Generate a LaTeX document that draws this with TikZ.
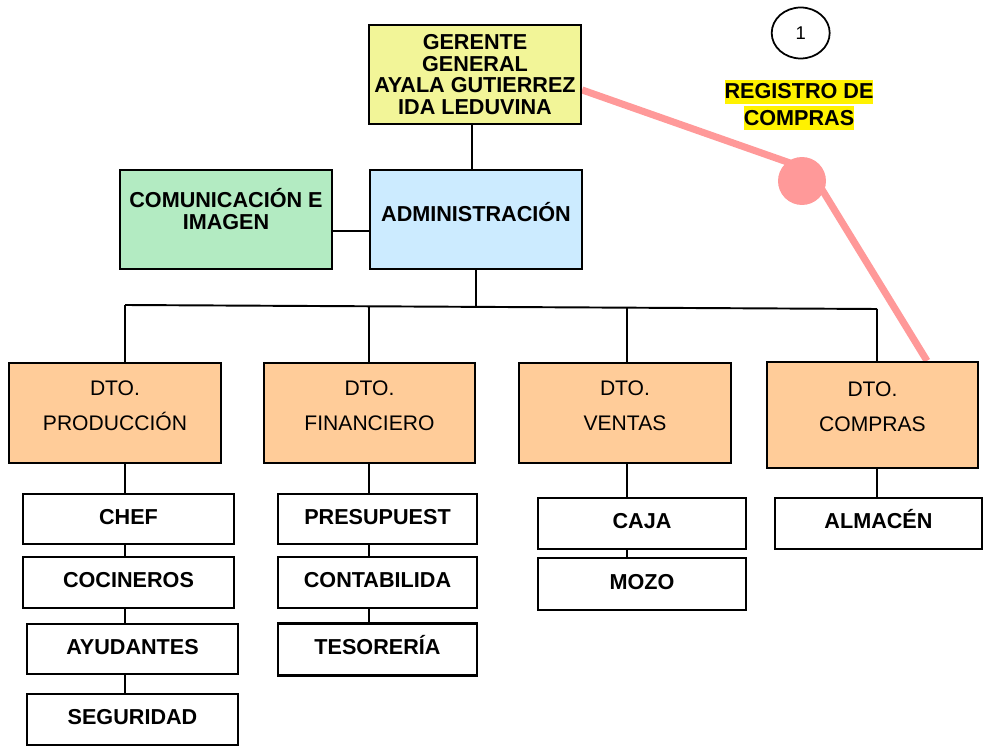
\documentclass[tikz,border=0pt]{standalone}
\usepackage{fontspec}
\setmainfont{Liberation Sans}
\usetikzlibrary{shapes.geometric,backgrounds,calc}
\definecolor{amarillo}{HTML}{F2F598}
\definecolor{verde}{HTML}{B3EBC2}
\definecolor{celeste}{HTML}{CCEBFF}
\definecolor{naranja}{HTML}{FFCC99}
\definecolor{rosa}{HTML}{FF9999}
\newcommand{\resalte}[1]{{\setlength{\fboxsep}{0pt}\colorbox{yellow}{\rule[-2.8pt]{0pt}{13.6pt}#1}}}
\begin{document}
\begin{tikzpicture}[x=0.02cm,y=-0.02cm,
        caja/.style={draw,line width=1.3pt,minimum width=4.24cm,minimum height=2cm,inner sep=0pt},
        depto/.style={caja,fill=naranja},
        puesto/.style={draw,line width=1.3pt,minimum width=4.22cm,minimum height=1cm,inner sep=0pt,text height=8.8pt,text depth=3pt,font=\fontsize{12.3}{14}\selectfont\bfseries},
        texto/.style={align=center,font=\fontsize{12.3}{12.5}\selectfont\bfseries},
        textodto/.style={align=center,yshift=4pt,font=\fontsize{12}{19.8}\selectfont},
        linea/.style={line width=1.1pt}]
        \useasboundingbox (0,0) rectangle (985,746);
        \node[caja,fill=amarillo,minimum height=1.98cm,align=center,font=\fontsize{12.3}{12.2}\selectfont\bfseries] (ger) at (475,74.5) {GERENTE\\GENERAL\\AYALA GUTIERREZ\\IDA LEDUVINA};
        \node[caja,fill=verde,minimum height=1.98cm,label={[texto,yshift=5.7pt]center:{COMUNICACIÓN E\\IMAGEN}}] (com) at (226,219.5) {};
        \node[caja,fill=celeste,minimum height=1.98cm,label={[texto,yshift=4.5pt]center:ADMINISTRACIÓN}] (adm) at (476,219.5) {};
        \node[depto,label={[textodto]center:{DTO.\\PRODUCCIÓN}}] (prod) at (115,413) {};
        \node[depto,minimum width=4.22cm,label={[textodto]center:{DTO.\\FINANCIERO}}] (fin) at (369.5,413) {};
        \node[depto,label={[textodto]center:{DTO.\\VENTAS}}] (vent) at (625,413) {};
        \node[depto,minimum width=4.22cm,minimum height=2.12cm,label={[textodto,yshift=0.5pt]center:{DTO.\\COMPRAS}}] (dcom) at (872.5,415) {};
        \node[puesto] (chef) at (128.5,519) {CHEF};
        \node[puesto,minimum height=1.02cm] (coci) at (128.5,582.5) {COCINEROS};
        \node[puesto] (ayud) at (132.5,649) {AYUDANTES};
        \node[puesto,minimum height=1.02cm] (segu) at (132.5,719.5) {SEGURIDAD};
        \node[puesto,minimum width=3.98cm] (pres) at (377.5,519) {PRESUPUEST};
        \node[puesto,minimum width=3.98cm,minimum height=1.02cm] (cont) at (377.5,582.5) {CONTABILIDA};
        \node[puesto,minimum width=3.98cm,minimum height=1.04cm] (teso) at (377.5,649.5) {TESORERÍA};
        \node[puesto,minimum width=4.16cm,minimum height=1.02cm] (caja) at (642,523.5) {CAJA};
        \node[puesto,minimum width=4.16cm,minimum height=1.04cm] (mozo) at (642,584) {MOZO};
        \node[puesto,minimum width=4.14cm,minimum height=1.02cm] (alma) at (878.5,523.5) {ALMACÉN};
        \node[draw,ellipse,line width=1pt,minimum width=1.16cm,minimum height=1.02cm,inner sep=0pt,font=\fontsize{10.5}{12}\selectfont] (uno) at (800.7,33) {1};
        \node[align=center,inner sep=0pt,font=\fontsize{12.3}{15.3}\selectfont\bfseries] (reg) at (799,105) {\resalte{REGISTRO DE}\\\resalte{COMPRAS}};
        \node[circle,fill=rosa,minimum size=0.96cm,inner sep=0pt] (punto) at (802,181) {};
        \coordinate (quiebre) at (810,170);
        \begin{scope}[on background layer]
        \draw[rosa,line width=4pt] ([yshift=-8.8pt]ger.east) -- (quiebre) -- ($(dcom.north)+(54.5,0)$);
        \end{scope}
        \coordinate (c1) at (125,305);
        \coordinate (c2) at (369,306);
        \coordinate (c3) at (627,308);
        \coordinate (c4) at (877,309);
        \coordinate (bus) at (476,307);
        \draw[linea] (ger.south -| 472,0) -- (adm.north -| 472,0);
        \draw[linea] ([yshift=-6.5pt]com.east) -- ([yshift=-6.5pt]adm.west);
        \draw[linea] (adm.south) -- (bus);
        \draw[linea] (c1) -- (c4);
        \foreach \c/\d in {c1/prod,c2/fin,c3/vent,c4/dcom}
        \draw[linea] (\c) -- (\c |- \d.north);
        \foreach \a/\b/\c in {prod/chef/c1,chef/coci/c1,coci/ayud/c1,ayud/segu/c1,fin/pres/c2,pres/cont/c2,cont/teso/c2,vent/caja/c3,caja/mozo/c3,dcom/alma/c4}
        \draw[linea] (\a.south -| \c) -- (\b.north -| \c);
\end{tikzpicture}
\end{document}
